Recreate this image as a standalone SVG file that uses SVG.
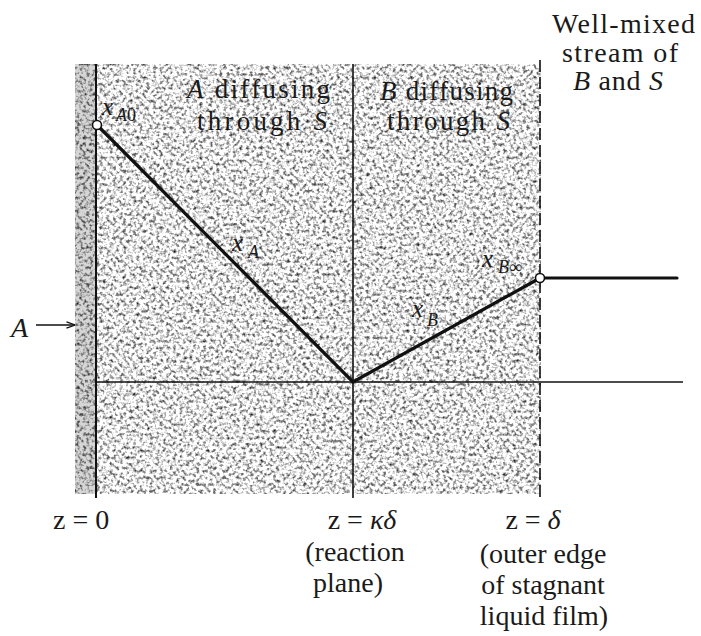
<svg xmlns="http://www.w3.org/2000/svg" width="701" height="636" viewBox="0 0 701 636">
<defs>
<style>
.t{font-family:"Liberation Serif","Times New Roman",serif;fill:#1a1a1a;}
.lbl{font-size:27px;}
.big{font-size:28px;}
.it{font-style:italic;}
.ln{stroke:#111;fill:none;}
.prof{stroke:#111;stroke-width:3.2;fill:none;stroke-linecap:round;}
.pt{fill:#fff;stroke:#111;stroke-width:1.6;}
</style>
<filter id="stip" x="0" y="0" width="1" height="1" primitiveUnits="userSpaceOnUse" color-interpolation-filters="sRGB">
<feTurbulence type="fractalNoise" baseFrequency="0.3" numOctaves="2" seed="7" result="n"/>
<feColorMatrix in="n" type="matrix" values="1 0 0 0 0  1 0 0 0 0  1 0 0 0 0  0 0 0 0 1" result="g"/>
<feComponentTransfer in="g">
<feFuncR type="linear" slope="2" intercept="-0.1"/>
<feFuncG type="linear" slope="2" intercept="-0.1"/>
<feFuncB type="linear" slope="2" intercept="-0.1"/>
</feComponentTransfer>
</filter>
<marker id="arr" viewBox="0 0 10 10" refX="9.5" refY="5" markerWidth="9" markerHeight="9" orient="auto" markerUnits="userSpaceOnUse">
<path d="M0,1.5 L10,5 L0,8.5" fill="none" stroke="#111" stroke-width="1.4"/>
</marker>
</defs>
<rect width="701" height="636" fill="#fff"/>
<g id="film">
<rect x="75" y="64" width="466" height="430" fill="#bbb" filter="url(#stip)"/>
<rect x="75" y="64" width="21" height="430" fill="#000" opacity="0.16"/>
</g>
<g id="connectors">
<line class="ln" x1="96" y1="64" x2="96" y2="498" stroke-width="2"/>
<line class="ln" x1="353" y1="64" x2="353" y2="498" stroke-width="1.6"/>
<line class="ln" x1="540" y1="60" x2="540" y2="498" stroke-width="1.6" stroke-dasharray="12 5"/>
<line class="ln" x1="96" y1="382" x2="683" y2="382" stroke-width="1.6"/>
<line class="ln" x1="36" y1="325" x2="75" y2="325" stroke-width="1.4" marker-end="url(#arr)"/>
<polyline class="prof" points="97,125 353,382 540,278"/>
<line class="prof" x1="540" y1="278" x2="677" y2="278" stroke-width="4"/>
<circle class="pt" cx="97" cy="125" r="4.5"/>
<circle class="pt" cx="540" cy="278" r="4.5"/>
</g>
<g id="label-wellmixed" class="t big">
<text x="552" y="33" textLength="143" lengthAdjust="spacing">Well-mixed</text>
<text x="562" y="62" textLength="116" lengthAdjust="spacing">stream of</text>
<text x="573" y="90" textLength="90" lengthAdjust="spacing"><tspan class="it">B</tspan> and <tspan class="it">S</tspan></text>
</g>
<g id="label-a-diff" class="t lbl">
<text x="187" y="98" textLength="143" lengthAdjust="spacing"><tspan class="it">A</tspan> diffusing</text>
<text x="197" y="130" textLength="130" lengthAdjust="spacing">through <tspan class="it">S</tspan></text>
</g>
<g id="label-b-diff" class="t lbl">
<text x="380" y="100" textLength="133" lengthAdjust="spacing"><tspan class="it">B</tspan> diffusing</text>
<text x="387" y="130" textLength="123" lengthAdjust="spacing">through <tspan class="it">S</tspan></text>
</g>
<g id="label-xA0" class="t it">
<text x="102" y="115" font-size="25">x</text>
<text x="116" y="121" font-size="18">A<tspan font-style="normal">0</tspan></text>
</g>
<g id="label-xA" class="t it">
<text x="232" y="251" font-size="25">x</text>
<text x="248" y="258" font-size="18">A</text>
</g>
<g id="label-xB" class="t it">
<text x="412" y="317" font-size="25">x</text>
<text x="427" y="326" font-size="18">B</text>
</g>
<g id="label-xBinf" class="t it">
<text x="482" y="267" font-size="25">x</text>
<text x="498" y="273" font-size="18">B<tspan font-style="normal">∞</tspan></text>
</g>
<g id="label-A" class="t it">
<text x="11" y="337" font-size="28">A</text>
</g>
<g id="label-z0" class="t big">
<text x="53" y="529">z = 0</text>
</g>
<g id="label-zk" class="t big">
<text x="362" y="529" text-anchor="middle">z = <tspan class="it">κδ</tspan></text>
<text x="355" y="561" text-anchor="middle">(reaction</text>
<text x="348" y="592" text-anchor="middle">plane)</text>
</g>
<g id="label-zd" class="t big">
<text x="533" y="529" text-anchor="middle">z = <tspan class="it">δ</tspan></text>
<text x="543" y="563" text-anchor="middle">(outer edge</text>
<text x="543" y="594" text-anchor="middle">of stagnant</text>
<text x="544" y="625" text-anchor="middle">liquid film)</text>
</g>
</svg>
